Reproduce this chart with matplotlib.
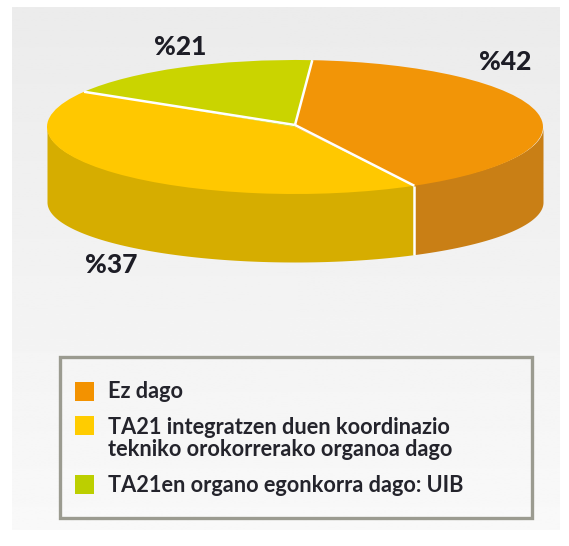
#!/usr/bin/python3
# -*- coding: utf-8 -*-

import matplotlib
matplotlib.use('Agg')
import matplotlib.pyplot as pl
from matplotlib.patches import Rectangle
import numpy as np

WIDTH = 569
HEIGHT = 546

# percentages printed on the chart
percent_labels = ['%42', '%37', '%21']
# share of the circle each slice really takes in the drawing (does not follow the printed numbers)
slice_shares = [40.9, 41.8, 17.3]
legend_labels = ['Ez dago',
                 'TA21 integratzen duen koordinazio\ntekniko orokorrerako organoa dago',
                 'TA21en organo egonkorra dago: UIB']

top_colors = ['#f29507', '#ffc800', '#cad400']
wall_colors = ['#c97f15', '#d6ad00']
legend_colors = ['#f39200', '#ffcc00', '#bccf00']

START = 86.0
# lower rim is a flatter ellipse than the top face (slight perspective)
RIM_SCALE = 60 / 67.0
RIM_OFFSET = 75 / 67.0


def rim(t):
    return RIM_SCALE * np.sin(t) - RIM_OFFSET


def draw_background(ax):
    shade = np.linspace(0.922, 0.975, 256).reshape(-1, 1)
    ax.imshow(shade, cmap='gray', vmin=0, vmax=1, aspect='auto',
              extent=(12, 560, 530, 7), zorder=0)
    ax.set_xlim(0, WIDTH)
    ax.set_ylim(HEIGHT, 0)
    ax.axis('off')


def draw_walls(ax, edges):
    # only the front half of the cylinder is visible
    for i, color in enumerate(wall_colors):
        a, b = sorted([max(edges[i], -180), max(edges[i + 1], -180)])
        t = np.radians(np.linspace(a, min(b, 0), 200))
        # top edge tucked under the face so no dark fringe shows along the rim
        ax.fill_between(np.cos(t), 0.97 * np.sin(t), rim(t), color=color,
                        linewidth=0, clip_on=False, zorder=0)


def draw_pie(ax):
    edges = START - np.cumsum([0] + slice_shares) * 3.6
    draw_walls(ax, edges)
    ax.pie(slice_shares, colors=top_colors, startangle=START, counterclock=False,
           radius=1, center=(0, 0), wedgeprops={'linewidth': 0})
    ax.set_aspect('auto')
    ax.set_xlim(-1, 1)
    ax.set_ylim(-1, 1)
    for edge in edges[:3]:
        t = np.radians(edge)
        ax.plot([0, np.cos(t)], [0.03, np.sin(t)], color='white', linewidth=1.8,
                clip_on=False, solid_capstyle='butt', zorder=5)
    t = np.radians(edges[1])
    ax.plot([np.cos(t)] * 2, [np.sin(t), rim(t)], color='white',
            linewidth=1.8, clip_on=False, solid_capstyle='butt', zorder=5)


def draw_labels(ax):
    positions = [(505, 62), (111, 265), (180, 47)]
    for text, (x, y) in zip(percent_labels, positions):
        ax.text(x, y, text, fontsize=19, fontweight='black', family='Lato', color='#1d1d26',
                ha='center', va='center', zorder=6)


def draw_legend(ax):
    ax.add_patch(Rectangle((60, 357), 472, 161, facecolor='none', edgecolor='#9b9b90',
                           linewidth=2.4, zorder=3))
    square_y = [382, 416, 475]
    text_y = [392, 438.5, 485]
    for label, color, sy, ty in zip(legend_labels, legend_colors, square_y, text_y):
        ax.add_patch(Rectangle((75, sy), 19, 19, facecolor=color, edgecolor='none', zorder=3))
        ax.text(108, ty, label, fontsize=15.7, fontweight='bold', family='Lato', color='#24242c',
                va='center', ha='left', linespacing=1.05, zorder=3)


def main():
    fig = pl.figure(figsize=(WIDTH / 100, HEIGHT / 100), dpi=100, facecolor='white')
    back = fig.add_axes([0, 0, 1, 1])
    draw_background(back)

    # ellipse of the top face in pixels: x 47-543, y 60-194
    pie_ax = fig.add_axes([47 / WIDTH, 1 - 194 / HEIGHT, 496 / WIDTH, 134 / HEIGHT])
    draw_pie(pie_ax)

    front = fig.add_axes([0, 0, 1, 1])
    front.set_xlim(0, WIDTH)
    front.set_ylim(HEIGHT, 0)
    front.axis('off')
    draw_labels(front)
    draw_legend(front)

    fig.savefig('out.png', dpi=100)


if __name__ == "__main__":
    main()
